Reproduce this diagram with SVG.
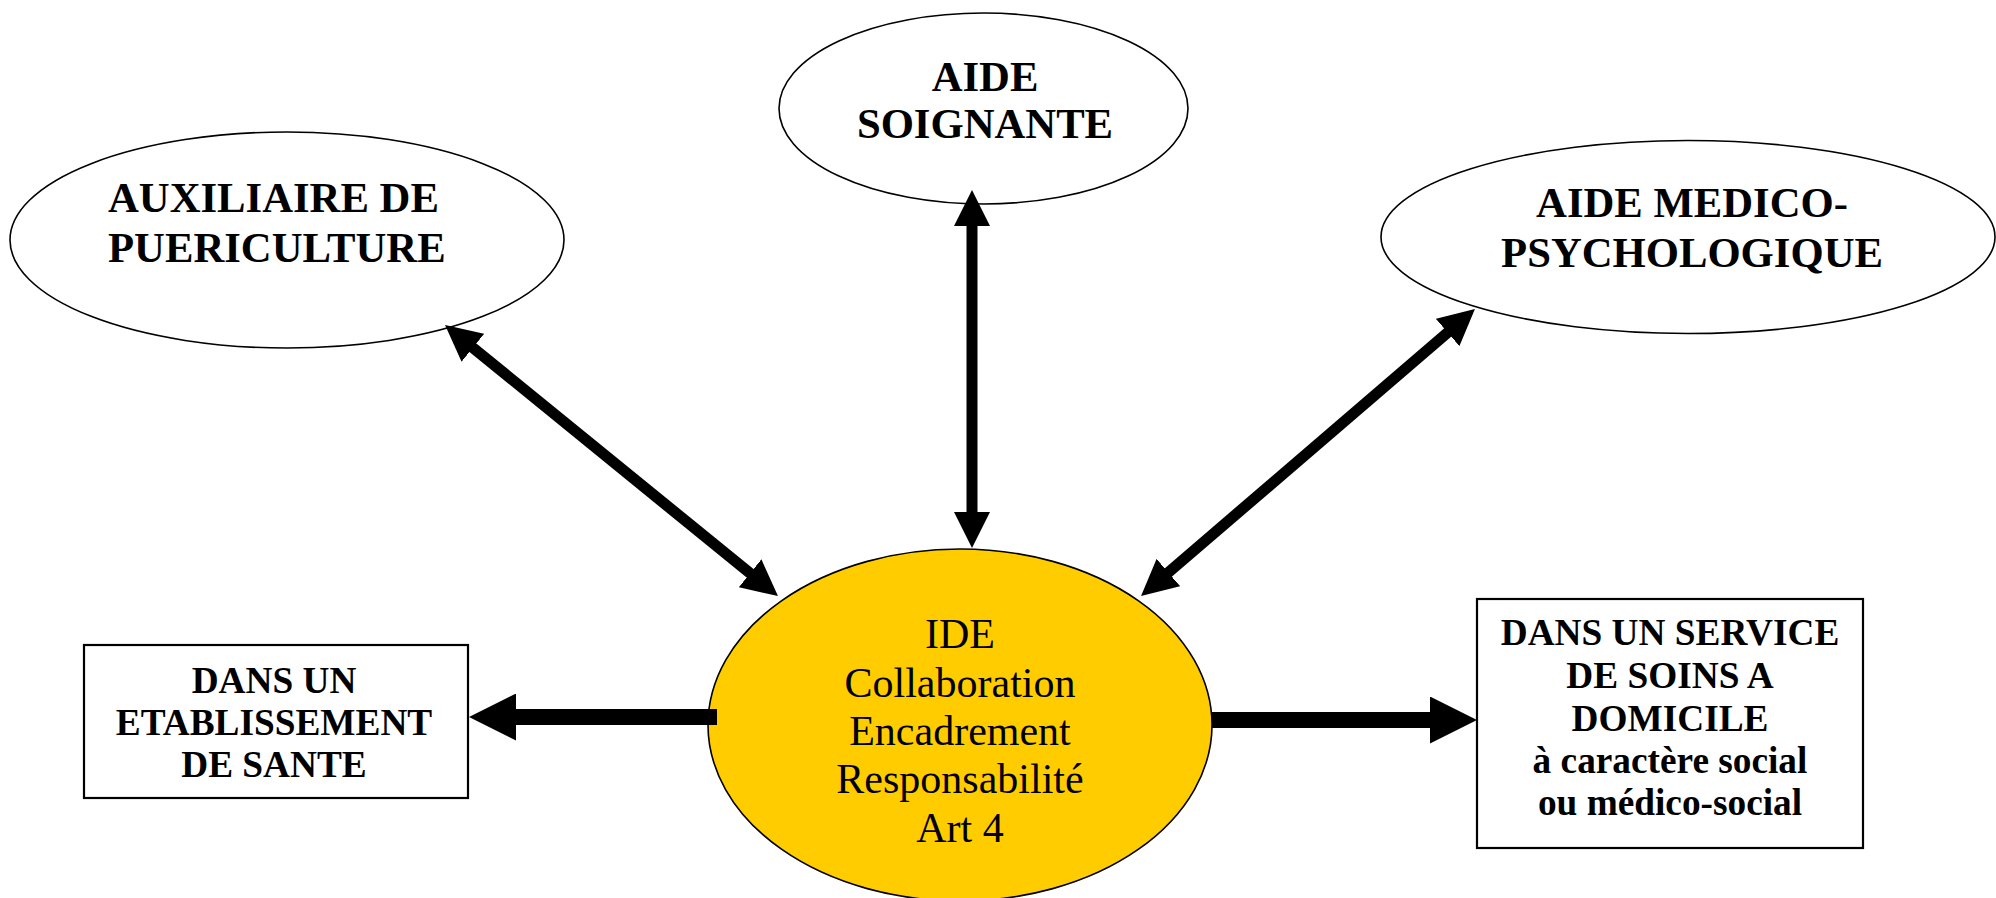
<svg xmlns="http://www.w3.org/2000/svg" width="1996" height="898" viewBox="0 0 1996 898">
  <style>
    .node { fill: #ffffff; stroke: #000000; stroke-width: 1.6; }
    .box { fill: #ffffff; stroke: #000000; stroke-width: 2.2; }
    .center { fill: #FFCC00; stroke: #000000; stroke-width: 1.6; }
    .lbl { font-family: "Liberation Serif", "Times New Roman", serif; font-weight: bold; font-size: 42.7px; fill: #000; }
    .blbl { font-family: "Liberation Serif", "Times New Roman", serif; font-weight: bold; font-size: 37.3px; fill: #000; text-anchor: middle; }
    .clbl { font-family: "Liberation Serif", "Times New Roman", serif; font-size: 42px; fill: #000; text-anchor: middle; }
    .dbl { stroke: #000; stroke-width: 11; fill: none; marker-start: url(#dhead); marker-end: url(#dhead); }
    .big { stroke: #000; stroke-width: 16; fill: none; marker-end: url(#bhead); }
  </style>
  <defs>
    <marker id="dhead" viewBox="0 0 36 36" refX="6" refY="18" markerWidth="36" markerHeight="36" markerUnits="userSpaceOnUse" orient="auto-start-reverse">
      <path d="M0,0 L36,18 L0,36 z" fill="#000"/>
    </marker>
    <marker id="bhead" viewBox="0 0 47 47" refX="7" refY="23.5" markerWidth="47" markerHeight="47" markerUnits="userSpaceOnUse" orient="auto">
      <path d="M0,0 L47,23.5 L0,47 z" fill="#000"/>
    </marker>
  </defs>
  <rect width="1996" height="898" fill="#ffffff"/>

  <g id="aux">
    <ellipse class="node" cx="287" cy="240" rx="277" ry="108"/>
    <text class="lbl" x="108" y="212">AUXILIAIRE DE</text>
    <text class="lbl" x="108" y="262">PUERICULTURE</text>
  </g>

  <g id="aide-soignante">
    <ellipse class="node" cx="983.5" cy="108.5" rx="204.5" ry="95.5"/>
    <text class="lbl" x="985" y="91" text-anchor="middle">AIDE</text>
    <text class="lbl" x="985" y="138" text-anchor="middle">SOIGNANTE</text>
  </g>

  <g id="amp">
    <ellipse class="node" cx="1688" cy="237" rx="307" ry="96.5"/>
    <text class="lbl" x="1692" y="217" text-anchor="middle">AIDE MEDICO-</text>
    <text class="lbl" x="1692" y="267" text-anchor="middle">PSYCHOLOGIQUE</text>
  </g>

  <g id="etab">
    <rect class="box" x="84" y="645" width="384" height="153"/>
    <text class="blbl" x="274" y="693">DANS UN</text>
    <text class="blbl" x="274" y="735">ETABLISSEMENT</text>
    <text class="blbl" x="274" y="777">DE SANTE</text>
  </g>

  <g id="domicile">
    <rect class="box" x="1477" y="599" width="386" height="249"/>
    <text class="blbl" x="1670" y="645">DANS UN SERVICE</text>
    <text class="blbl" x="1670" y="688">DE SOINS A</text>
    <text class="blbl" x="1670" y="731">DOMICILE</text>
    <text class="blbl" x="1670" y="773">à caractère social</text>
    <text class="blbl" x="1670" y="815">ou médico-social</text>
  </g>

  <g id="ide">
    <ellipse class="center" cx="960" cy="725" rx="252" ry="176"/>
    <text class="clbl" x="960" y="648">IDE</text>
    <text class="clbl" x="960" y="697">Collaboration</text>
    <text class="clbl" x="960" y="745">Encadrement</text>
    <text class="clbl" x="960" y="793">Responsabilité</text>
    <text class="clbl" x="960" y="842">Art 4</text>
  </g>

  <g id="connectors">
    <line class="dbl" x1="468.3" y1="343.9" x2="754.7" y2="577.1"/>
    <line class="dbl" x1="972" y1="220" x2="972" y2="518"/>
    <line class="dbl" x1="1452.2" y1="328.6" x2="1163.8" y2="576.4"/>
    <line class="big" x1="717" y1="717" x2="509" y2="717"/>
    <line class="big" x1="1212" y1="720" x2="1437" y2="720"/>
  </g>
</svg>
